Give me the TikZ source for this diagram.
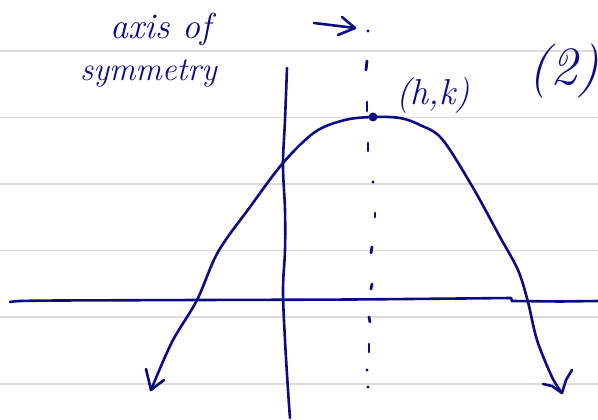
\documentclass[tikz,border=0pt]{standalone}
\usetikzlibrary{arrows.meta}
\definecolor{ink}{HTML}{0C0C82}
\definecolor{rulegray}{HTML}{DCDCDC}
\tikzset{
  inkline/.style={draw=ink, line width=2.6pt, line cap=round, line join=round},
  ruled/.style={draw=rulegray, line width=1.6pt},
  hand/.style={text=ink, inner sep=0pt, font=\fontsize{#1}{#1}\selectfont\itshape},
  hand/.default=34,
  dashseg/.style={draw=ink, line width=2.8pt, line cap=round},
}
\begin{document}
\begin{tikzpicture}[x=1pt,y=-1pt]
\useasboundingbox (0,0) rectangle (598,420);
\fill[white] (0,0) rectangle (598,420);
% notebook lines
\foreach \y in {51,117.5,184,250.5,317,384} \draw[ruled] (0,\y) -- (598,\y);

% texts
\node[hand=36, anchor=base west] (axisof) at (110,39) {axis of};
\node[hand=33, anchor=base west] (symm) at (80,81) {symmetry};
\node[hand=36] (hk) at (433,96) {(h,k)};
\node[hand=54] (two) at (564,71) {(2)};

% small arrow pointing at axis
\coordinate (a0) at (314,23);
\coordinate (a1) at (355,28);
\draw[inkline] (a0) -- (a1);
\draw[inkline] (342,17) -- (a1) -- (338,35);

% x-axis
\draw[inkline] plot[smooth, tension=0.4] coordinates {(10,302) (20,301) (60,300.5) (200,300) (350,299.5) (511,298)};
\draw[inkline] (511,298) -- (512,301) -- (560,301.5) -- (598,301);

% y-axis
\draw[inkline] plot[smooth, tension=0.6] coordinates {(287,68) (285,120) (283,165) (285,210) (285,250) (283,290) (285,340) (288,390) (290,418)};

% parabola
\draw[inkline] plot[smooth, tension=0.55] coordinates {(151,390) (172,342) (197,300) (218,252) (250,207) (283,163) (315,132) (345,120) (373,117) (400,118) (420,125) (442,139) (472,186) (500,237) (518,270) (528,302) (537,340) (552,377) (562,393)};
% arrowheads
\draw[inkline] (146,369) -- (151,390) -- (164,380);
\draw[inkline] (543,384) -- (552,386) -- (562,393) -- (566,380) -- (572,370);

% vertex
\fill[ink] (373,117) circle (4.5pt);
\node[inner sep=0pt] (v) at (373,117) {};

% axis of symmetry (dotted / dashed)
\fill[ink] (368,31) circle (1.6pt);
\draw[dashseg] (367,61) -- (366,70);
\draw[dashseg] (367,102) -- (367,111);
\draw[dashseg] (368,143) -- (368,151);
\fill[ink] (373,182) circle (1.6pt);
\draw[dashseg] (375,213) -- (375,217);
\draw[dashseg] (372,247) -- (371,253);
\draw[dashseg] (372,284) -- (371,289);
\draw[dashseg] (369,317) -- (370,322);
\draw[dashseg] (369,344) -- (369,352);
\fill[ink] (367,370) circle (1.6pt);
\fill[ink] (368,387) circle (1.6pt);
\end{tikzpicture}
\end{document}
